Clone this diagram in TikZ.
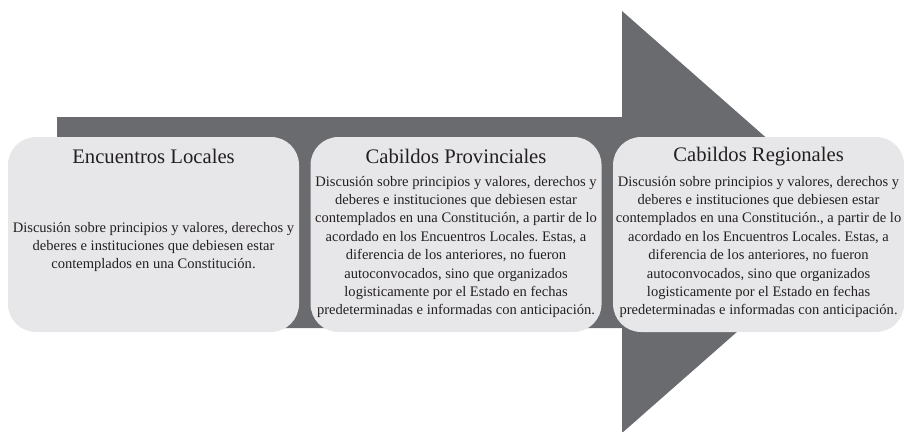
\documentclass[tikz,border=0pt]{standalone}
\usepackage{fontspec}
\setmainfont{Liberation Serif}
\usetikzlibrary{positioning}
\definecolor{flechagris}{HTML}{6A6B6F}
\definecolor{cajagris}{HTML}{E7E7E9}
\definecolor{tinta}{HTML}{231F20}
\frenchspacing

\begin{document}
\begin{tikzpicture}[x=0.75pt,y=-0.75pt,caja/.style={rectangle, rounded corners=21pt, fill=cajagris, minimum width=218.25pt, minimum height=146.25pt, inner sep=0pt}]
    \tikzset{titulo/.style={font=\fontsize{15.5}{18}\selectfont, text=tinta, inner sep=0pt}}
    \tikzset{cuerpo/.style={font=\fontsize{10.9}{13.8}\selectfont, text=tinta, align=center, inner sep=0pt}}
    \useasboundingbox (0,0) rectangle (904,432);
    % flecha de fondo
    \fill[flechagris] (57,117) -- (622,117) -- (622,11) -- (862,222) -- (622,433) -- (622,328) -- (57,328) -- cycle;

    \node[caja] (loc) at (153.5,234.5) {};
    \node[caja, right=8.25pt of loc] (prov) {};
    \node[caja, right=8.25pt of prov] (reg) {};

    \node[titulo] (locT) at ([yshift=-15pt]loc.north) {Encuentros Locales};
    \node[titulo] (provT) at ([yshift=-15pt]prov.north) {Cabildos Provinciales};
    \node[titulo] (regT) at ([yshift=-15pt]reg.north) {Cabildos Regionales};

    \node[cuerpo] (locC) at ([yshift=-9.4pt]loc.center) {Discusión sobre principios y valores, derechos y\\ deberes e instituciones que debiesen estar\\ contemplados en una Constitución.};
    \node[cuerpo] (provC) at ([yshift=-9.4pt]prov.center) {Discusión sobre principios y valores, derechos y\\ deberes e instituciones que debiesen estar\\ contemplados en una Constitución, a partir de lo\\ acordado en los Encuentros Locales. Estas, a\\ diferencia de los anteriores, no fueron\\ autoconvocados, sino que organizados\\ logisticamente por el Estado en fechas\\ predeterminadas e informadas con anticipación.};
    \node[cuerpo] (regC) at ([yshift=-9.4pt]reg.center) {Discusión sobre principios y valores, derechos y\\ deberes e instituciones que debiesen estar\\ contemplados en una Constitución., a partir de lo\\ acordado en los Encuentros Locales. Estas, a\\ diferencia de los anteriores, no fueron\\ autoconvocados, sino que organizados\\ logisticamente por el Estado en fechas\\ predeterminadas e informadas con anticipación.};
\end{tikzpicture}
\end{document}
